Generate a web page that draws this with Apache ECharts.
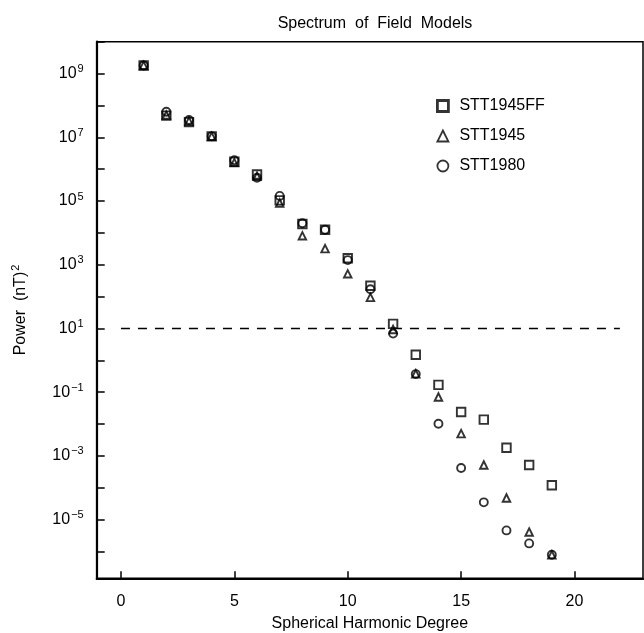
<!DOCTYPE html>
<html><head><meta charset="utf-8">
<script src="https://cdn.jsdelivr.net/npm/echarts@6/dist/echarts.min.js"></script>
<style>html,body{margin:0;padding:0;background:#fff}#c{width:644px;height:633px}</style>
</head><body><div id="c"></div>
<script>
// Spherical harmonic degree
const degrees = [1,2,3,4,5,6,7,8,9,10,11,12,13,14,15,16,17,18,19];
// Power (nT)^2 per model
const stt1945ff = [1.8e9,4.8e7,3.0e7,1.07e7,1.7e6,6.8e5,1.05e5,1.9e4,1.26e4,1.6e3,2.2e2,14,1.5,0.17,0.024,0.0138,1.8e-3,5.2e-4,1.2e-4];
const stt1945   = [1.8e9,5.0e7,3.2e7,1.07e7,1.6e6,6.0e5,8.7e4,8.1e3,3.2e3,5.2e2,95,9.3,0.38,0.071,5.0e-3,5.2e-4,4.8e-5,4.1e-6,7.9e-7];
const stt1980   = [1.8e9,6.3e7,3.5e7,1.07e7,1.9e6,5.4e5,1.45e5,2.0e4,1.26e4,1.4e3,1.7e2,6.9,0.37,0.0102,4.2e-4,3.5e-5,4.6e-6,1.8e-6,7.9e-7];
// Reference level (dashed line) and its extent in degree
const refLevel = 10;
const refRange = [0, 22];
// Axis ticks
const xTickValues = [0,5,10,15,20];
const yLabelExponents = [-5,-3,-1,1,3,5,7,9];
const yTickExponents = [-6,-5,-4,-3,-2,-1,0,1,2,3,4,5,6,7,8,9,10];
const yMinExp = -6.84, yMaxExp = 10;
const xMin = -1.07, xMax = 23.02;

const toPts = arr => degrees.map((d,i)=>[d, Math.log10(arr[i])]);
const FONT = 'Liberation Sans';
const sup = n => (n < 0 ? '\u2212' + (-n) : String(n));

const markerStyle = {color:'rgba(0,0,0,0)', borderColor:'#000', borderWidth:1.9};

const chart = echarts.init(document.getElementById('c'), null, {renderer:'canvas'});
chart.setOption({
  animation:false,
  backgroundColor:'#fff',
  textStyle:{fontFamily:FONT, color:'#000'},
  title:{text:'Spectrum  of  Field  Models', left:370, top:11, textAlign:'center',
    textStyle:{fontFamily:FONT, fontSize:16, fontWeight:'normal', color:'#000'}},
  legend:{
    orient:'vertical', left:431, top:93, itemGap:14, itemWidth:11, itemHeight:11,
    textStyle:{fontFamily:FONT, fontSize:16, color:'#000', padding:[0,0,0,6]},
    data:[
      {name:'STT1945FF', icon:'rect', itemStyle:{color:'rgba(0,0,0,0)', borderColor:'#000', borderWidth:2.8}},
      {name:'STT1945', icon:'triangle', itemStyle:{color:'rgba(0,0,0,0)', borderColor:'#000', borderWidth:1.8}},
      {name:'STT1980', icon:'circle', itemStyle:{color:'rgba(0,0,0,0)', borderColor:'#000', borderWidth:1.8}}
    ]
  },
  grid:{left:96.7, right:1, top:41.7, bottom:54.7, show:true, borderColor:'#000', borderWidth:1.5,
    containLabel:false, outerBoundsMode:'none'},
  xAxis:{
    type:'value', min:xMin, max:xMax,
    name:'Spherical Harmonic Degree', nameLocation:'middle', nameGap:37,
    nameTextStyle:{fontFamily:FONT, fontSize:16, color:'#000'},
    axisLine:{show:true, onZero:false, lineStyle:{color:'#000', width:2.2}},
    axisTick:{show:true, inside:true, length:7, lineStyle:{color:'#000', width:1.5}, customValues:xTickValues},
    axisLabel:{fontFamily:FONT, fontSize:16, color:'#000', margin:15, customValues:xTickValues},
    splitLine:{show:false}
  },
  yAxis:{
    type:'value', min:yMinExp, max:yMaxExp,
    name:'{a|Power  (nT)}{s|2}', nameLocation:'middle', nameGap:66, nameRotate:90,
    nameTextStyle:{fontFamily:FONT, fontSize:16, color:'#000',
      rich:{a:{fontFamily:FONT, fontSize:16, color:'#000'}, s:{fontFamily:FONT, fontSize:11, color:'#000', padding:[0,0,9,1]}}},
    axisLine:{show:true, onZero:false, lineStyle:{color:'#000', width:2.2}},
    axisTick:{show:true, inside:true, length:8, lineStyle:{color:'#000', width:1.5}, customValues:yTickExponents},
    axisLabel:{margin:13, customValues:yLabelExponents,
      formatter:v=>'{b|10}{s|'+sup(Math.round(v))+'}',
      rich:{b:{fontFamily:FONT, fontSize:16, color:'#000'}, s:{fontFamily:FONT, fontSize:11, color:'#000', padding:[0,0,9,1]}}},
    splitLine:{show:false}
  },
  series:[
    {name:'STT1945FF', type:'scatter', symbol:'rect', symbolSize:8.5, data:toPts(stt1945ff), itemStyle:markerStyle, z:3},
    {name:'STT1945', type:'scatter', symbol:'triangle', symbolSize:7.5, data:toPts(stt1945), itemStyle:markerStyle, z:3},
    {name:'STT1980', type:'scatter', symbol:'circle', symbolSize:8, data:toPts(stt1980), itemStyle:markerStyle, z:3},
    {name:'ref', type:'line', symbol:'none', data:refRange.map(x=>[x, Math.log10(refLevel)]),
      lineStyle:{color:'#000', width:1.3, type:[9,8]}, z:2, silent:true}
  ]
});
</script></body></html>
